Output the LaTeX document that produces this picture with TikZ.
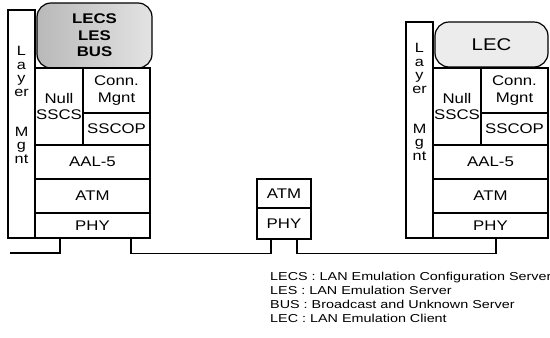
\documentclass[tikz,border=0pt]{standalone}
\usepackage{fontspec}
\newfontfamily\wf[FakeStretch=1.2]{Liberation Sans}
\newfontfamily\wfl[FakeStretch=1.25]{Liberation Sans}
\begin{document}
\begin{tikzpicture}[x=1pt,y=-1pt,
  box/.style={draw, line width=1.1pt, inner sep=0pt, align=center,
    font=\wf\fontsize{14}{16}\selectfont},
  blob/.style={draw, line width=1.2pt, rounded corners=14pt, inner sep=0pt, align=center},
  mg/.style={inner sep=0pt, align=center, font=\wf\fontsize{13.5}{13.5}\selectfont},
  wire/.style={line width=1.2pt},
  legend/.style={anchor=base west, inner sep=0pt, font=\wfl\fontsize{11.5}{13}\selectfont}]
\useasboundingbox (0,0) rectangle (550,338);

% ---------- left stack ----------
\node[box, minimum width=27pt, minimum height=228pt] (lmg) at (21.5,124) {};
\node[mg] (lmgt) at (21.5,105) {L\\a\\y\\er\\[26.5pt]M\\g\\nt};
\node[blob, left color=gray!55, right color=gray!22, minimum width=115pt, minimum height=65pt,
      font=\wf\bfseries\fontsize{14}{16.5}\selectfont] (lecs) at (94.5,35.5) {LECS\\LES\\BUS};
\node[box, minimum width=48pt, minimum height=77pt] (lnull) at (59,106.5) {Null\\SSCS};
\node[box, minimum width=67pt, minimum height=45pt, font=\wf\fontsize{14}{17}\selectfont] (lconn) at (116.5,90.5) {Conn.\\Mgnt};
\node[box, minimum width=67pt, minimum height=32pt] (lsscop) at (116.5,129) {SSCOP};
\node[box, minimum width=115pt, minimum height=34pt] (laal) at (92.5,162) {AAL-5};
\node[box, minimum width=115pt, minimum height=34pt] (latm) at (92.5,196) {ATM};
\node[box, minimum width=115pt, minimum height=25pt] (lphy) at (92.5,225.5) {PHY};

% ---------- middle switch ----------
\node[box, minimum width=54pt, minimum height=29pt] (matm) at (284,193.5) {ATM};
\node[box, minimum width=54pt, minimum height=31pt] (mphy) at (284,223.5) {PHY};

% ---------- right stack ----------
\node[box, minimum width=27pt, minimum height=216pt] (rmg) at (419.5,130) {};
\node[mg] (rmgt) at (419.5,102) {L\\a\\y\\er\\[26.5pt]M\\g\\nt};
\node[blob, fill=gray!15, minimum width=113pt, minimum height=45pt,
      font=\wf\fontsize{17}{19}\selectfont] (lec) at (491.5,44.5) {LEC};
\node[box, minimum width=48pt, minimum height=77pt] (rnull) at (457,106.5) {Null\\SSCS};
\node[box, minimum width=67pt, minimum height=45pt, font=\wf\fontsize{14}{17}\selectfont] (rconn) at (514.5,90.5) {Conn.\\Mgnt};
\node[box, minimum width=67pt, minimum height=32pt] (rsscop) at (514.5,129) {SSCOP};
\node[box, minimum width=115pt, minimum height=34pt] (raal) at (490.5,162) {AAL-5};
\node[box, minimum width=115pt, minimum height=34pt] (ratm) at (490.5,196) {ATM};
\node[box, minimum width=115pt, minimum height=25pt] (rphy) at (490.5,225.5) {PHY};

% ---------- wiring ----------
\coordinate (lend) at (10,253);
\draw[wire] (lend) -| ([xshift=-32.5pt]lphy.south);
\draw[wire] ([xshift=38.5pt]lphy.south) -- ++(0,15) -| ([xshift=-13pt]mphy.south);
\draw[wire] ([xshift=13pt]mphy.south) -- ++(0,14) -| ([xshift=5.5pt]rphy.south);

% ---------- legend ----------
\node[legend] (g1) at (270,280) {LECS : LAN Emulation Configuration Server};
\node[legend] (g2) at (270,294) {LES : LAN Emulation Server};
\node[legend] (g3) at (270,308) {BUS : Broadcast and Unknown Server};
\node[legend] (g4) at (270,322) {LEC : LAN Emulation Client};
\end{tikzpicture}
\end{document}
